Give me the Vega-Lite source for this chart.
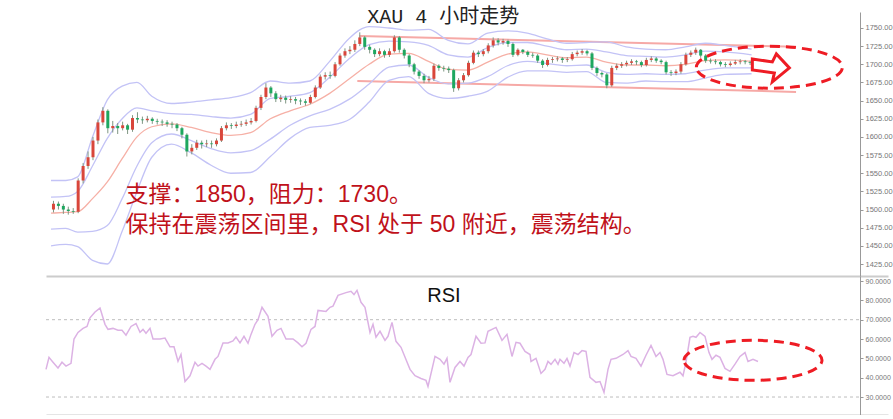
{
"$schema":"https://vega.github.io/schema/vega-lite/v6.json",
"padding":{"left":43,"top":7,"right":0,"bottom":0},
"spacing":0,
"config":{"view":{"stroke":null},"font":"Liberation Sans","axis":{"labelOverlap":false}},
"datasets":{
"candles":[
{"i":0,"o":1500,"c":1508,"h":1512,"l":1496},{"i":1,"o":1508,"c":1505,"h":1511,"l":1500},{"i":2,"o":1505,"c":1500,"h":1508,"l":1494},{"i":3,"o":1500,"c":1498,"h":1504,"l":1493},{"i":4,"o":1498,"c":1497,"h":1502,"l":1494},
{"i":5,"o":1497,"c":1540,"h":1543,"l":1495},{"i":6,"o":1540,"c":1560,"h":1564,"l":1536},{"i":7,"o":1560,"c":1572,"h":1580,"l":1556},{"i":8,"o":1572,"c":1595,"h":1600,"l":1568},{"i":9,"o":1595,"c":1620,"h":1624,"l":1590},
{"i":10,"o":1620,"c":1636,"h":1641,"l":1616},{"i":11,"o":1636,"c":1612,"h":1638,"l":1605},{"i":12,"o":1612,"c":1615,"h":1622,"l":1606},{"i":13,"o":1615,"c":1612,"h":1619,"l":1604},{"i":14,"o":1612,"c":1616,"h":1621,"l":1609},
{"i":15,"o":1616,"c":1610,"h":1618,"l":1604},{"i":16,"o":1610,"c":1626,"h":1630,"l":1607},{"i":17,"o":1626,"c":1624,"h":1634,"l":1619},{"i":18,"o":1624,"c":1623,"h":1628,"l":1618},{"i":19,"o":1623,"c":1625,"h":1629,"l":1620},
{"i":20,"o":1625,"c":1622,"h":1627,"l":1618},{"i":21,"o":1622,"c":1621,"h":1625,"l":1617},{"i":22,"o":1621,"c":1620,"h":1624,"l":1615},{"i":23,"o":1620,"c":1618,"h":1623,"l":1614},{"i":24,"o":1618,"c":1617,"h":1621,"l":1612},
{"i":25,"o":1617,"c":1612,"h":1619,"l":1608},{"i":26,"o":1612,"c":1603,"h":1614,"l":1598},{"i":27,"o":1603,"c":1580,"h":1605,"l":1573},{"i":28,"o":1580,"c":1585,"h":1590,"l":1576},{"i":29,"o":1585,"c":1592,"h":1596,"l":1582},
{"i":30,"o":1592,"c":1590,"h":1595,"l":1584},{"i":31,"o":1590,"c":1591,"h":1596,"l":1586},{"i":32,"o":1591,"c":1590,"h":1595,"l":1585},{"i":33,"o":1590,"c":1595,"h":1598,"l":1587},{"i":34,"o":1595,"c":1612,"h":1615,"l":1593},
{"i":35,"o":1612,"c":1616,"h":1620,"l":1609},{"i":36,"o":1616,"c":1615,"h":1619,"l":1611},{"i":37,"o":1615,"c":1617,"h":1621,"l":1612},{"i":38,"o":1617,"c":1618,"h":1622,"l":1614},{"i":39,"o":1618,"c":1620,"h":1624,"l":1615},
{"i":40,"o":1620,"c":1622,"h":1626,"l":1617},{"i":41,"o":1622,"c":1640,"h":1643,"l":1620},{"i":42,"o":1640,"c":1655,"h":1658,"l":1637},{"i":43,"o":1655,"c":1668,"h":1674,"l":1652},{"i":44,"o":1668,"c":1660,"h":1670,"l":1655},
{"i":45,"o":1660,"c":1652,"h":1663,"l":1648},{"i":46,"o":1652,"c":1654,"h":1658,"l":1648},{"i":47,"o":1654,"c":1651,"h":1657,"l":1646},{"i":48,"o":1651,"c":1652,"h":1656,"l":1647},{"i":49,"o":1652,"c":1650,"h":1655,"l":1645},
{"i":50,"o":1650,"c":1649,"h":1653,"l":1644},{"i":51,"o":1649,"c":1647,"h":1652,"l":1643},{"i":52,"o":1647,"c":1655,"h":1658,"l":1645},{"i":53,"o":1655,"c":1668,"h":1671,"l":1653},{"i":54,"o":1668,"c":1683,"h":1686,"l":1666},
{"i":55,"o":1683,"c":1685,"h":1689,"l":1679},{"i":56,"o":1685,"c":1684,"h":1690,"l":1680},{"i":57,"o":1684,"c":1700,"h":1703,"l":1682},{"i":58,"o":1700,"c":1712,"h":1715,"l":1698},{"i":59,"o":1712,"c":1718,"h":1722,"l":1709},
{"i":60,"o":1718,"c":1720,"h":1725,"l":1714},{"i":61,"o":1720,"c":1728,"h":1733,"l":1717},{"i":62,"o":1728,"c":1737,"h":1744,"l":1725},{"i":63,"o":1737,"c":1724,"h":1739,"l":1720},{"i":64,"o":1724,"c":1720,"h":1727,"l":1715},
{"i":65,"o":1720,"c":1714,"h":1722,"l":1710},{"i":66,"o":1714,"c":1718,"h":1722,"l":1711},{"i":67,"o":1718,"c":1713,"h":1720,"l":1709},{"i":68,"o":1713,"c":1718,"h":1722,"l":1710},{"i":69,"o":1718,"c":1737,"h":1740,"l":1716},
{"i":70,"o":1737,"c":1720,"h":1739,"l":1716},{"i":71,"o":1720,"c":1712,"h":1722,"l":1708},{"i":72,"o":1712,"c":1700,"h":1714,"l":1696},{"i":73,"o":1700,"c":1690,"h":1702,"l":1686},{"i":74,"o":1690,"c":1684,"h":1692,"l":1680},
{"i":75,"o":1684,"c":1678,"h":1687,"l":1674},{"i":76,"o":1678,"c":1680,"h":1684,"l":1675},{"i":77,"o":1680,"c":1698,"h":1701,"l":1677},{"i":78,"o":1698,"c":1695,"h":1700,"l":1691},{"i":79,"o":1695,"c":1694,"h":1698,"l":1690},
{"i":80,"o":1694,"c":1692,"h":1697,"l":1688},{"i":81,"o":1692,"c":1667,"h":1694,"l":1662},{"i":82,"o":1667,"c":1678,"h":1681,"l":1664},{"i":83,"o":1678,"c":1685,"h":1688,"l":1675},{"i":84,"o":1685,"c":1702,"h":1705,"l":1683},
{"i":85,"o":1702,"c":1716,"h":1719,"l":1700},{"i":86,"o":1716,"c":1714,"h":1719,"l":1710},{"i":87,"o":1714,"c":1718,"h":1721,"l":1711},{"i":88,"o":1718,"c":1726,"h":1729,"l":1715},{"i":89,"o":1726,"c":1733,"h":1737,"l":1723},
{"i":90,"o":1733,"c":1730,"h":1736,"l":1726},{"i":91,"o":1730,"c":1732,"h":1735,"l":1727},{"i":92,"o":1732,"c":1728,"h":1734,"l":1724},{"i":93,"o":1728,"c":1713,"h":1730,"l":1710},{"i":94,"o":1713,"c":1720,"h":1722,"l":1711},
{"i":95,"o":1720,"c":1717,"h":1721,"l":1714},{"i":96,"o":1717,"c":1713,"h":1719,"l":1710},{"i":97,"o":1713,"c":1712,"h":1716,"l":1709},{"i":98,"o":1712,"c":1705,"h":1714,"l":1702},{"i":99,"o":1705,"c":1699,"h":1707,"l":1695},
{"i":100,"o":1699,"c":1706,"h":1709,"l":1697},{"i":101,"o":1706,"c":1707,"h":1710,"l":1702},{"i":102,"o":1707,"c":1708,"h":1711,"l":1704},{"i":103,"o":1708,"c":1706,"h":1710,"l":1702},{"i":104,"o":1706,"c":1707,"h":1710,"l":1703},
{"i":105,"o":1707,"c":1714,"h":1717,"l":1705},{"i":106,"o":1714,"c":1716,"h":1719,"l":1711},{"i":107,"o":1716,"c":1718,"h":1721,"l":1713},{"i":108,"o":1718,"c":1715,"h":1720,"l":1712},{"i":109,"o":1715,"c":1695,"h":1717,"l":1692},
{"i":110,"o":1695,"c":1688,"h":1697,"l":1684},{"i":111,"o":1688,"c":1686,"h":1690,"l":1682},{"i":112,"o":1686,"c":1671,"h":1688,"l":1667},{"i":113,"o":1671,"c":1695,"h":1698,"l":1669},{"i":114,"o":1695,"c":1698,"h":1701,"l":1692},
{"i":115,"o":1698,"c":1700,"h":1703,"l":1695},{"i":116,"o":1700,"c":1702,"h":1705,"l":1697},{"i":117,"o":1702,"c":1704,"h":1707,"l":1699},{"i":118,"o":1704,"c":1703,"h":1706,"l":1699},{"i":119,"o":1703,"c":1699,"h":1705,"l":1696},
{"i":120,"o":1699,"c":1706,"h":1709,"l":1697},{"i":121,"o":1706,"c":1708,"h":1711,"l":1703},{"i":122,"o":1708,"c":1705,"h":1710,"l":1702},{"i":123,"o":1705,"c":1703,"h":1707,"l":1700},{"i":124,"o":1703,"c":1689,"h":1705,"l":1686},
{"i":125,"o":1689,"c":1688,"h":1692,"l":1684},{"i":126,"o":1688,"c":1690,"h":1693,"l":1685},{"i":127,"o":1690,"c":1700,"h":1703,"l":1687},{"i":128,"o":1700,"c":1713,"h":1716,"l":1698},{"i":129,"o":1713,"c":1716,"h":1719,"l":1710},
{"i":130,"o":1716,"c":1720,"h":1723,"l":1713},{"i":131,"o":1720,"c":1712,"h":1721,"l":1709},{"i":132,"o":1712,"c":1705,"h":1714,"l":1702},{"i":133,"o":1705,"c":1704,"h":1708,"l":1701},{"i":134,"o":1704,"c":1703,"h":1707,"l":1700},
{"i":135,"o":1703,"c":1700,"h":1705,"l":1697},{"i":136,"o":1700,"c":1699,"h":1703,"l":1696},{"i":137,"o":1699,"c":1701,"h":1704,"l":1697},{"i":138,"o":1701,"c":1703,"h":1706,"l":1699},{"i":139,"o":1703,"c":1704,"h":1707,"l":1700},
{"i":140,"o":1704,"c":1703,"h":1706,"l":1700},{"i":141,"o":1703,"c":1702,"h":1705,"l":1699}
],
"bands":[
{"i":-0.5,"m":1495,"u2":1540,"u1":1517,"l1":1473,"l2":1450},{"i":2.5,"m":1496,"u2":1540,"u1":1518,"l1":1474,"l2":1452},{"i":4.9,"m":1497,"u2":1545,"u1":1525,"l1":1469,"l2":1449},
{"i":7.9,"m":1515,"u2":1600,"u1":1560,"l1":1470,"l2":1430},{"i":10.9,"m":1538,"u2":1651,"u1":1598,"l1":1478,"l2":1425},{"i":13.9,"m":1570,"u2":1670,"u1":1625,"l1":1515,"l2":1470},
{"i":16.9,"m":1600,"u2":1675,"u1":1640,"l1":1560,"l2":1525},{"i":19.9,"m":1614,"u2":1656,"u1":1636,"l1":1592,"l2":1572},{"i":23.9,"m":1618,"u2":1646,"u1":1632,"l1":1604,"l2":1590},
{"i":27.9,"m":1613,"u2":1648,"u1":1631,"l1":1595,"l2":1578},{"i":31.9,"m":1606,"u2":1651,"u1":1628,"l1":1584,"l2":1561},{"i":35.9,"m":1602,"u2":1654,"u1":1626,"l1":1578,"l2":1550},
{"i":39.9,"m":1606,"u2":1661,"u1":1631,"l1":1581,"l2":1551},{"i":43.9,"m":1625,"u2":1677,"u1":1653,"l1":1597,"l2":1573},{"i":47.9,"m":1636,"u2":1674,"u1":1656,"l1":1616,"l2":1598},
{"i":51.9,"m":1645,"u2":1677,"u1":1661,"l1":1629,"l2":1613},{"i":55.9,"m":1660,"u2":1704,"u1":1682,"l1":1638,"l2":1616},{"i":59.9,"m":1680,"u2":1736,"u1":1708,"l1":1652,"l2":1624},
{"i":63.9,"m":1700,"u2":1752,"u1":1727,"l1":1673,"l2":1648},{"i":67.9,"m":1714,"u2":1750,"u1":1732,"l1":1696,"l2":1678},{"i":71.9,"m":1715,"u2":1747,"u1":1731,"l1":1699,"l2":1683},
{"i":75.9,"m":1704,"u2":1748,"u1":1726,"l1":1682,"l2":1660},{"i":79.9,"m":1693,"u2":1733,"u1":1713,"l1":1673,"l2":1653},{"i":83.9,"m":1692,"u2":1728,"u1":1710,"l1":1674,"l2":1656},
{"i":87.9,"m":1703,"u2":1743,"u1":1723,"l1":1683,"l2":1663},{"i":91.9,"m":1714,"u2":1746,"u1":1730,"l1":1698,"l2":1682},{"i":95.9,"m":1717,"u2":1743,"u1":1730,"l1":1704,"l2":1691},
{"i":99.9,"m":1713,"u2":1735,"u1":1725,"l1":1701,"l2":1691},{"i":103.9,"m":1709,"u2":1729,"u1":1720,"l1":1698,"l2":1689},{"i":107.9,"m":1710,"u2":1730,"u1":1721,"l1":1699,"l2":1690},
{"i":111.9,"m":1703,"u2":1731,"u1":1717,"l1":1689,"l2":1675},{"i":115.9,"m":1699,"u2":1724,"u1":1712,"l1":1686,"l2":1674},{"i":119.9,"m":1699,"u2":1721,"u1":1711,"l1":1687,"l2":1677},
{"i":123.9,"m":1698,"u2":1720,"u1":1710,"l1":1686,"l2":1676},{"i":127.9,"m":1700,"u2":1724,"u1":1713,"l1":1687,"l2":1676},{"i":131.9,"m":1705,"u2":1729,"u1":1718,"l1":1692,"l2":1681},
{"i":135.9,"m":1706,"u2":1726,"u1":1717,"l1":1695,"l2":1686},{"i":141.3,"m":1704,"u2":1721,"u1":1713,"l1":1695,"l2":1687}
],
"channel":[{"i":61.9,"p":1739,"i2":150.3,"p2":1724},{"i":61.5,"p":1677,"i2":150.3,"p2":1662}],
"levels":[{"i":-0.5,"i2":162.4,"v":70},{"i":-0.5,"i2":162.4,"v":30}],
"rsi":[
{"i":-0.5,"r":44.3},{"i":0.1,"r":50.5},{"i":0.9,"r":48},{"i":1.9,"r":45},{"i":2.7,"r":48},{"i":3.5,"r":46},{"i":4.5,"r":47.4},{"i":5.1,"r":60},{"i":5.9,"r":63.4},{"i":6.9,"r":65.5},
{"i":7.7,"r":66.5},{"i":8.3,"r":71},{"i":9.3,"r":74},{"i":10.3,"r":76},{"i":11.3,"r":67.6},{"i":11.9,"r":65},{"i":12.9,"r":65.5},{"i":13.9,"r":64.5},{"i":14.7,"r":64.5},{"i":15.5,"r":62},
{"i":16.5,"r":66.5},{"i":17.5,"r":68},{"i":18.3,"r":63.5},{"i":18.9,"r":65},{"i":19.5,"r":63},{"i":20.3,"r":65.5},{"i":20.9,"r":60},{"i":22.3,"r":60},{"i":23.3,"r":60.5},{"i":24.3,"r":56},
{"i":25.1,"r":56},{"i":25.9,"r":48.5},{"i":26.5,"r":52},{"i":27.3,"r":38},{"i":28.3,"r":41},{"i":29.3,"r":48},{"i":29.9,"r":46},{"i":30.7,"r":47.4},{"i":31.5,"r":46},{"i":32.3,"r":44.3},
{"i":33.3,"r":49.5},{"i":33.9,"r":51},{"i":34.9,"r":58},{"i":35.9,"r":58},{"i":36.9,"r":59},{"i":37.5,"r":61},{"i":38.3,"r":58},{"i":39.1,"r":61.4},{"i":39.9,"r":57.8},{"i":40.5,"r":62.4},
{"i":41.3,"r":67.6},{"i":41.9,"r":70},{"i":42.7,"r":76.4},{"i":43.9,"r":71.7},{"i":44.7,"r":61.4},{"i":45.7,"r":64.5},{"i":46.5,"r":65.5},{"i":47.5,"r":60},{"i":48.9,"r":60},{"i":49.9,"r":58},
{"i":50.7,"r":56},{"i":51.5,"r":57.8},{"i":52.5,"r":65},{"i":53.3,"r":66.5},{"i":53.9,"r":74.8},{"i":55.5,"r":74.3},{"i":56.3,"r":76.4},{"i":56.9,"r":77},{"i":57.9,"r":82.6},{"i":59.5,"r":84},
{"i":60.5,"r":84.7},{"i":61.1,"r":83},{"i":61.7,"r":85.2},{"i":62.5,"r":79},{"i":63.3,"r":76.4},{"i":64.3,"r":63.4},{"i":64.9,"r":67.6},{"i":65.5,"r":61},{"i":66.3,"r":64},{"i":67.3,"r":59.3},
{"i":67.9,"r":61.4},{"i":68.7,"r":68.6},{"i":69.5,"r":58.8},{"i":70.5,"r":55.7},{"i":72.3,"r":44.3},{"i":73.3,"r":41},{"i":74.5,"r":39.6},{"i":75.5,"r":38.6},{"i":75.9,"r":35.5},{"i":77.3,"r":51},
{"i":78.3,"r":49.5},{"i":79.1,"r":47},{"i":79.7,"r":50},{"i":80.3,"r":37.6},{"i":81.3,"r":45.3},{"i":82.3,"r":48.4},{"i":83.1,"r":46},{"i":83.9,"r":50.5},{"i":84.5,"r":52},{"i":85.5,"r":61.4},
{"i":86.5,"r":57.8},{"i":87.3,"r":58},{"i":87.9,"r":64},{"i":89.5,"r":66},{"i":90.7,"r":59.3},{"i":91.7,"r":62.4},{"i":92.7,"r":51},{"i":93.5,"r":58.3},{"i":94.3,"r":57.8},{"i":95.3,"r":53.6},
{"i":96.3,"r":52},{"i":96.5,"r":48.4},{"i":97.5,"r":50},{"i":98.5,"r":42.2},{"i":99.3,"r":44.3},{"i":99.9,"r":48.4},{"i":100.5,"r":46.9},{"i":101.3,"r":49.5},{"i":101.9,"r":46.9},{"i":102.3,"r":49.5},
{"i":103.1,"r":47.4},{"i":103.7,"r":50},{"i":104.3,"r":46},{"i":105.1,"r":53},{"i":105.9,"r":52},{"i":106.7,"r":54},{"i":107.5,"r":53.6},{"i":108.3,"r":40.2},{"i":109.5,"r":37.6},{"i":110.3,"r":38},
{"i":111.1,"r":32.4},{"i":111.9,"r":44.3},{"i":112.5,"r":49.5},{"i":113.5,"r":50},{"i":114.9,"r":52},{"i":115.9,"r":54},{"i":116.5,"r":51},{"i":117.5,"r":50},{"i":118.5,"r":46},{"i":119.5,"r":51.6},
{"i":120.5,"r":56.7},{"i":121.5,"r":51},{"i":122.3,"r":53},{"i":122.9,"r":49.5},{"i":123.7,"r":41.7},{"i":124.9,"r":41},{"i":126.3,"r":42.8},{"i":126.9,"r":41},{"i":127.5,"r":48},{"i":128.3,"r":60.9},
{"i":128.9,"r":61.4},{"i":129.5,"r":60.9},{"i":130.3,"r":63.4},{"i":131.3,"r":61.4},{"i":132.1,"r":53},{"i":132.7,"r":49.5},{"i":133.5,"r":51.6},{"i":134.3,"r":50.5},{"i":135.3,"r":44.8},{"i":136.3,"r":43.3},
{"i":137.3,"r":47},{"i":138.3,"r":51},{"i":139.3,"r":53},{"i":139.9,"r":48.4},{"i":140.9,"r":49.5},{"i":141.9,"r":48.4}
]
},
"vconcat":[
{
"width":842,"height":264,
"encoding":{"x":{"field":"i","type":"quantitative","scale":{"domain":[-0.5,167.9],"nice":false,"zero":false},"axis":{"orient":"bottom","labels":false,"ticks":false,"grid":false,"domain":true,"domainColor":"#cccccc","domainWidth":2,"title":null}}},
"layer":[
{"data":{"name":"channel"},"mark":{"type":"rule","color":"#f6a9a6","strokeWidth":2},
 "encoding":{"x2":{"field":"i2"},"y":{"field":"p","type":"quantitative","scale":{"domain":[1408.5,1772],"nice":false,"zero":false},"axis":{"orient":"right","offset":-28,"values":[1425,1450,1475,1500,1525,1550,1575,1600,1625,1650,1675,1700,1725,1750],"tickCount":30,"format":".2f","labelFontSize":7.5,"labelColor":"#777777","labelOverlap":false,"tickSize":3,"tickColor":"#999999","domainColor":"#999999","labelPadding":2,"grid":false,"title":null}},"y2":{"field":"p2"}}},
{"data":{"name":"bands"},"mark":{"type":"line","color":"#c3c3f6","strokeWidth":1.3,"interpolate":"monotone"},"encoding":{"y":{"field":"u2","type":"quantitative","scale":{"domain":[1408.5,1772],"nice":false,"zero":false}}}},
{"data":{"name":"bands"},"mark":{"type":"line","color":"#c3c3f6","strokeWidth":1.3,"interpolate":"monotone"},"encoding":{"y":{"field":"u1","type":"quantitative","scale":{"domain":[1408.5,1772],"nice":false,"zero":false}}}},
{"data":{"name":"bands"},"mark":{"type":"line","color":"#c3c3f6","strokeWidth":1.3,"interpolate":"monotone"},"encoding":{"y":{"field":"l1","type":"quantitative","scale":{"domain":[1408.5,1772],"nice":false,"zero":false}}}},
{"data":{"name":"bands"},"mark":{"type":"line","color":"#c3c3f6","strokeWidth":1.3,"interpolate":"monotone"},"encoding":{"y":{"field":"l2","type":"quantitative","scale":{"domain":[1408.5,1772],"nice":false,"zero":false}}}},
{"data":{"name":"bands"},"mark":{"type":"line","color":"#f6b0a6","strokeWidth":1.3,"interpolate":"monotone"},"encoding":{"y":{"field":"m","type":"quantitative","scale":{"domain":[1408.5,1772],"nice":false,"zero":false}}}},
{"data":{"name":"candles"},"mark":{"type":"rule","color":"#7f9683","strokeWidth":1},"encoding":{"y":{"field":"l","type":"quantitative","scale":{"domain":[1408.5,1772],"nice":false,"zero":false}},"y2":{"field":"h"}}},
{"data":{"name":"candles"},"mark":{"type":"bar","width":3},"encoding":{"y":{"field":"o","type":"quantitative","scale":{"domain":[1408.5,1772],"nice":false,"zero":false}},"y2":{"field":"c"},"color":{"condition":{"test":"datum.c >= datum.o","value":"#d9463b"},"value":"#1ea75f"}}},
{"data":{"values":[{"i":144.9,"p":1696}]},"mark":{"type":"point","shape":"M -1 0 C -1 -0.16 -0.552 -0.288 0 -0.288 C 0.552 -0.288 1 -0.16 1 0 C 1 0.16 0.552 0.288 0 0.288 C -0.552 0.288 -1 0.16 -1 0 Z","size":21316,"filled":false,"stroke":"#ee1c24","strokeWidth":3,"strokeDash":[10,6],"opacity":1},"encoding":{"y":{"field":"p","type":"quantitative","scale":{"domain":[1408.5,1772],"nice":false,"zero":false}}}},
{"data":{"values":[{"i":145.1,"p":1695}]},"mark":{"type":"point","shape":"M -0.9 -0.45 L 0.1 -0.3 L 0.3 -0.7 L 0.95 0 L 0.1 0.7 L 0.2 0.25 L -0.9 0.1 Z","size":1600,"filled":false,"stroke":"#ee1c24","strokeWidth":3,"opacity":1},"encoding":{"y":{"field":"p","type":"quantitative","scale":{"domain":[1408.5,1772],"nice":false,"zero":false}}}},
{"data":{"values":[{"i":78.9,"p":1765,"t":"XAU 4 小时走势"}]},"mark":{"type":"text","align":"center","baseline":"middle","fontSize":20,"font":"Liberation Mono, Noto Sans CJK SC","color":"#222222"},"encoding":{"y":{"field":"p","type":"quantitative","scale":{"domain":[1408.5,1772],"nice":false,"zero":false}},"text":{"field":"t"}}},
{"data":{"values":[{"i":14.6,"p":1520,"t":"支撑：1850，阻力：1730。"},{"i":14.6,"p":1479,"t":"保持在震荡区间里，RSI 处于 50 附近，震荡结构。"}]},"mark":{"type":"text","align":"left","baseline":"middle","fontSize":23,"font":"Liberation Sans, Noto Sans CJK SC","color":"#c0111a"},"encoding":{"y":{"field":"p","type":"quantitative","scale":{"domain":[1408.5,1772],"nice":false,"zero":false}},"text":{"field":"t"}}},
{"data":{"values":[{}]},"mark":{"type":"rule","color":"#bbbbbb","strokeWidth":1},"encoding":{"x":{"datum":167.9}}}
]
},
{
"width":842,"height":139,
"encoding":{"x":{"field":"i","type":"quantitative","scale":{"domain":[-0.5,167.9],"nice":false,"zero":false},"axis":{"orient":"bottom","labels":false,"ticks":false,"grid":false,"domain":true,"domainColor":"#cccccc","domainWidth":2,"title":null}}},
"layer":[
{"data":{"name":"levels"},"mark":{"type":"rule","color":"#bdbdbd","strokeWidth":1,"strokeDash":[3,3]},
 "encoding":{"x2":{"field":"i2"},"y":{"field":"v","type":"quantitative","scale":{"domain":[20.7,92.6],"nice":false,"zero":false},"axis":{"orient":"right","offset":-28,"values":[30,40,50,60,70,80,90],"tickCount":20,"format":".4f","labelFontSize":7,"labelColor":"#777777","labelOverlap":false,"tickSize":3,"tickColor":"#999999","domainColor":"#999999","labelPadding":2,"grid":false,"title":null}}}},
{"data":{"name":"rsi"},"mark":{"type":"line","color":"#dcb2e4","strokeWidth":1.5},"encoding":{"y":{"field":"r","type":"quantitative","scale":{"domain":[20.7,92.6],"nice":false,"zero":false}}}},
{"data":{"values":[{"i":140.9,"r":49}]},"mark":{"type":"point","shape":"M -1 0 C -1 -0.16 -0.552 -0.29 0 -0.29 C 0.552 -0.29 1 -0.16 1 0 C 1 0.16 0.552 0.29 0 0.29 C -0.552 0.29 -1 0.16 -1 0 Z","size":19044,"filled":false,"stroke":"#ee1c24","strokeWidth":3,"strokeDash":[10,6],"opacity":1},"encoding":{"y":{"field":"r","type":"quantitative","scale":{"domain":[20.7,92.6],"nice":false,"zero":false}}}},
{"data":{"values":[{"i":79.1,"r":82,"t":"RSI"}]},"mark":{"type":"text","align":"center","baseline":"middle","fontSize":20,"font":"Liberation Sans","color":"#111111"},"encoding":{"y":{"field":"r","type":"quantitative","scale":{"domain":[20.7,92.6],"nice":false,"zero":false}},"text":{"field":"t"}}},
{"data":{"values":[{}]},"mark":{"type":"rule","color":"#bbbbbb","strokeWidth":1},"encoding":{"x":{"datum":167.9}}}
]
}
]
}
